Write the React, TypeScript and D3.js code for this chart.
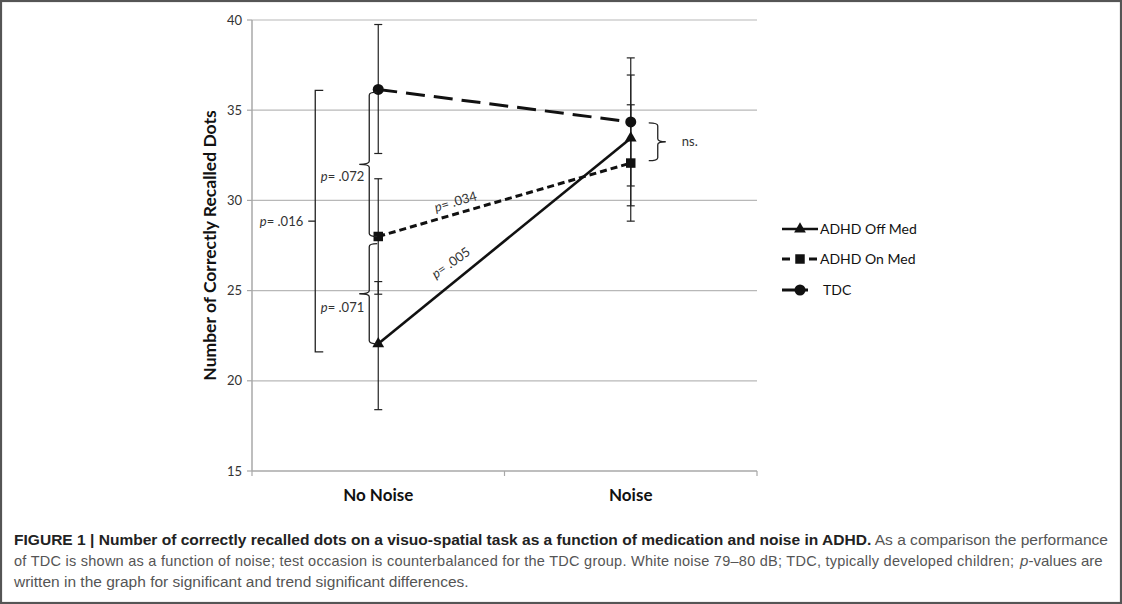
import React from "react";
import * as d3 from "d3";

const categories = ["No Noise", "Noise"];
const seriesNames = ["ADHD Off Med", "ADHD On Med", "TDC"];
const offMedMean = [22.05, 33.45];
const offMedUpper = [25.5, 36.95];
const offMedLower = [18.4, 29.7];
const onMedMean = [28.0, 32.07];
const onMedUpper = [31.2, 35.3];
const onMedLower = [24.8, 28.85];
const tdcMean = [36.15, 34.35];
const tdcUpper = [39.75, 37.9];
const tdcLower = [32.6, 30.8];
const yTicks = [15, 20, 25, 30, 35, 40];
const yTitle = "Number of Correctly Recalled Dots";

const W = 1122;
const H = 604;
const x = d3.scaleBand<string>().domain(categories).range([252, 757]);
const y = d3.scaleLinear().domain([15, 40]).range([471, 20]);
const cx = (c: string) => (x(c) as number) + x.bandwidth() / 2;

const FONT = "Lato, 'Open Sans', sans-serif";
const INK = "#111";

type Series = {
  name: string;
  mean: number[];
  up: number[];
  lo: number[];
  dash: string;
  legendDash: string;
  width: number;
  marker: string;
};
const series: Series[] = [
  { name: seriesNames[0], mean: offMedMean, up: offMedUpper, lo: offMedLower, dash: "none", legendDash: "none", width: 2.6, marker: "triangle" },
  { name: seriesNames[1], mean: onMedMean, up: onMedUpper, lo: onMedLower, dash: "7,4", legendDash: "8,19", width: 3, marker: "square" },
  { name: seriesNames[2], mean: tdcMean, up: tdcUpper, lo: tdcLower, dash: "19,9", legendDash: "26,30", width: 3, marker: "circle" },
];

function Marker({ kind, px, py }: { kind: string; px: number; py: number }) {
  if (kind === "triangle") {
    const p = d3.symbol().type(d3.symbolTriangle).size(60)();
    return <path d={p || ""} transform={`translate(${px},${py})`} fill={INK} />;
  }
  if (kind === "square") {
    const p = d3.symbol().type(d3.symbolSquare).size(90)();
    return <path d={p || ""} transform={`translate(${px},${py})`} fill={INK} />;
  }
  return <circle cx={px} cy={py} r={5.5} fill={INK} />;
}

function brace(bx: number, y1: number, y2: number, dir: number, w = 8, t = 8) {
  const ym = (y1 + y2) / 2;
  const r = 3;
  const h = -dir * w;
  return `M${bx + h},${y1} Q${bx},${y1} ${bx},${y1 + r} L${bx},${ym - r} Q${bx},${ym} ${bx + dir * t},${ym} Q${bx},${ym} ${bx},${ym + r} L${bx},${y2 - r} Q${bx},${y2} ${bx + h},${y2}`;
}

export default function App() {
  const c0 = cx(categories[0]);
  const c1 = cx(categories[1]);
  const line = d3
    .line<number>()
    .x((_, i) => cx(categories[i]))
    .y((d) => y(d));

  const b016x = c0 - 63;
  const b016y1 = y(36.1);
  const b016y2 = y(21.6);
  const b016m = (b016y1 + b016y2) / 2;
  const braceX = c0 - 9;
  const nsX = c1 + 27;

  const along = (s: number[], t: number, off: number) => {
    const x0 = c0, y0 = y(s[0]), x1 = c1, y1 = y(s[1]);
    const ang = Math.atan2(y1 - y0, x1 - x0);
    const px = x0 + (x1 - x0) * t + Math.sin(ang) * off;
    const py = y0 + (y1 - y0) * t - Math.cos(ang) * off;
    return { px, py, deg: (ang * 180) / Math.PI };
  };
  const l034 = along(onMedMean, 0.32, 12);
  const l005 = along(offMedMean, 0.33, 17);

  const pLabel = (txt: string) => (
    <>
      <tspan fontStyle="italic">p</tspan>
      {"= " + txt}
    </>
  );

  const legendY = [229, 259, 290];

  return (
    <div style={{ position: "fixed", left: 0, top: 0 }}>
      <svg width={W} height={H} style={{ display: "block", background: "#fff" }}>
        <rect x={1} y={1} width={W - 2} height={H - 2} fill="#fff" stroke="#555" strokeWidth={2.2} />
        {yTicks.slice(1).map((t) => (
          <line key={"g" + t} x1={252} x2={757} y1={y(t)} y2={y(t)} stroke="#b8b8b8" strokeWidth={1.2} />
        ))}
        <line x1={252} x2={252} y1={y(40)} y2={y(15)} stroke="#a8a8a8" strokeWidth={1.5} />
        {yTicks.map((t) => (
          <g key={"t" + t}>
            <line x1={247} x2={252} y1={y(t)} y2={y(t)} stroke="#a8a8a8" strokeWidth={1.2} />
            <text x={242} y={y(t)} dy="0.35em" textAnchor="end" fontFamily={FONT} fontSize={13} fill="#333">
              {t}
            </text>
          </g>
        ))}
        <line x1={252} x2={757} y1={y(15)} y2={y(15)} stroke="#a8a8a8" strokeWidth={1.5} />
        {[252, x(categories[1]) as number, 757].map((v, i) => (
          <line key={"xt" + i} x1={v} x2={v} y1={y(15)} y2={y(15) + 5} stroke="#a8a8a8" strokeWidth={1.2} />
        ))}
        {categories.map((c) => (
          <text key={c} x={cx(c)} y={501} textAnchor="middle" fontFamily={FONT} fontWeight="bold" fontSize={17} fill={INK}>
            {c}
          </text>
        ))}
        <text
          transform={`translate(216,${(y(15) + y(40)) / 2}) rotate(-90)`}
          textAnchor="middle"
          fontFamily={FONT}
          fontWeight="bold"
          fontSize={17.5}
          fill={INK}
        >
          {yTitle}
        </text>

        {series.map((s) =>
          categories.map((c, i) => (
            <g key={s.name + c} stroke="#222" strokeWidth={1.2}>
              <line x1={cx(c)} x2={cx(c)} y1={y(s.up[i])} y2={y(s.lo[i])} />
              <line x1={cx(c) - 4} x2={cx(c) + 4} y1={y(s.up[i])} y2={y(s.up[i])} />
              <line x1={cx(c) - 4} x2={cx(c) + 4} y1={y(s.lo[i])} y2={y(s.lo[i])} />
            </g>
          ))
        )}
        {series.map((s) => (
          <path key={s.name} d={line(s.mean) || ""} fill="none" stroke={INK} strokeWidth={s.width} strokeDasharray={s.dash} />
        ))}
        {series.map((s) =>
          s.mean.map((v, i) => <Marker key={s.name + i} kind={s.marker} px={cx(categories[i])} py={y(v)} />)
        )}

        <g fill="none" stroke="#222" strokeWidth={1.3}>
          <path d={`M${b016x + 8},${b016y1} L${b016x},${b016y1} L${b016x},${b016y2} L${b016x + 8},${b016y2}`} />
          <line x1={b016x} x2={b016x - 7} y1={b016m} y2={b016m} />
          <path d={brace(braceX, y(36.0), y(28.0), -1, 8, 10)} />
          <path d={brace(braceX, y(27.6), y(22.05), -1, 8, 10)} />
          <path d={brace(nsX, y(34.3), y(32.2), 1, 9, 8)} />
        </g>
        <g fontFamily={FONT} fontSize={13} fill="#333">
          <text x={b016x - 12} y={b016m} dy="0.35em" textAnchor="end">
            {pLabel(".016")}
          </text>
          <text x={braceX - 5} y={y(32.05) + 13} dy="0.35em" textAnchor="end">
            {pLabel(".072")}
          </text>
          <text x={braceX - 5} y={y(24.8) + 13} dy="0.35em" textAnchor="end">
            {pLabel(".071")}
          </text>
          <text transform={`translate(${l034.px},${l034.py}) rotate(${l034.deg})`} textAnchor="middle" dy="0.35em">
            {pLabel(".034")}
          </text>
          <text transform={`translate(${l005.px},${l005.py}) rotate(${l005.deg + 4})`} textAnchor="middle" dy="0.35em">
            {pLabel(".005")}
          </text>
          <text x={nsX + 24} y={y(33.25)} dy="0.35em">
            ns.
          </text>
        </g>

        {series.map((s, i) => (
          <g key={"lg" + s.name}>
            <line x1={782} x2={818} y1={legendY[i]} y2={legendY[i]} stroke={INK} strokeWidth={s.width} strokeDasharray={s.legendDash} />
            <Marker kind={s.marker} px={800} py={legendY[i]} />
            <text x={i === 2 ? 823 : 820} y={legendY[i]} dy="0.35em" fontFamily={FONT} fontSize={14} fill={INK}>
              {s.name}
            </text>
          </g>
        ))}

        <g fontFamily="'Liberation Sans', Arial, sans-serif" fontSize={15.5}>
          <text x={14} y={545} textLength={1094} lengthAdjust="spacingAndGlyphs" fill="#555">
            <tspan fontWeight="bold" fill="#222">
              FIGURE 1 | Number of correctly recalled dots on a visuo-spatial task as a function of medication and noise in ADHD.
            </tspan>
            {" As a comparison the performance"}
          </text>
          <text x={14} y={566} fontSize={14.5} textLength={1000} lengthAdjust="spacing" fill="#555">
            of TDC is shown as a function of noise; test occasion is counterbalanced for the TDC group. White noise 79–80 dB; TDC, typically developed children;
          </text>
          <text x={1020} y={566} fontSize={15} fontStyle="italic" fill="#555">
            p
          </text>
          <text x={1028.5} y={566} fontSize={15} fill="#555">
            -values are
          </text>
          <text x={14} y={587} fill="#555">
            written in the graph for significant and trend significant differences.
          </text>
        </g>
      </svg>
    </div>
  );
}
